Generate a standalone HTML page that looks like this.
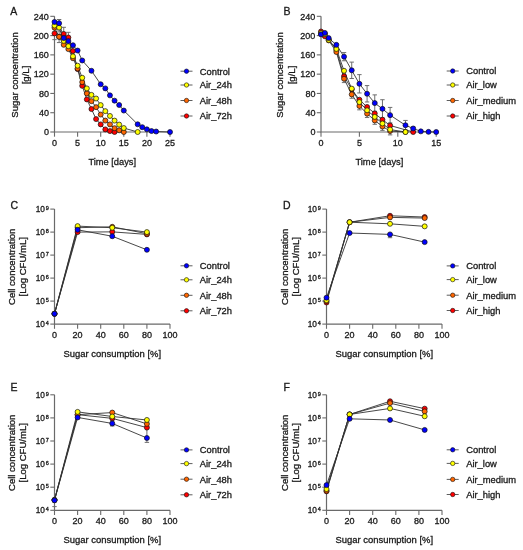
<!DOCTYPE html>
<html><head><meta charset="utf-8"><style>
html,body{margin:0;padding:0;background:#fff;}
body{width:523px;height:550px;overflow:hidden;}
svg{display:block;will-change:transform;}
text{font-family:"Liberation Sans", sans-serif;fill:#1a1a1a;stroke:#1a1a1a;stroke-width:0.3px;}
</style></head><body>
<svg width="523" height="550" viewBox="0 0 523 550">
<rect width="523" height="550" fill="#fff"/>
<path d="M54.50,16.32V132.00H170.00" fill="none" stroke="#6a6a6a" stroke-width="1.2"/>
<path d="M54.50,132.00v4.7" stroke="#6a6a6a" stroke-width="1.1"/>
<text x="54.50" y="145.80" font-size="9.0" text-anchor="middle" >0</text>
<path d="M77.60,132.00v4.7" stroke="#6a6a6a" stroke-width="1.1"/>
<text x="77.60" y="145.80" font-size="9.0" text-anchor="middle" >5</text>
<path d="M100.70,132.00v4.7" stroke="#6a6a6a" stroke-width="1.1"/>
<text x="100.70" y="145.80" font-size="9.0" text-anchor="middle" >10</text>
<path d="M123.80,132.00v4.7" stroke="#6a6a6a" stroke-width="1.1"/>
<text x="123.80" y="145.80" font-size="9.0" text-anchor="middle" >15</text>
<path d="M146.90,132.00v4.7" stroke="#6a6a6a" stroke-width="1.1"/>
<text x="146.90" y="145.80" font-size="9.0" text-anchor="middle" >20</text>
<path d="M170.00,132.00v4.7" stroke="#6a6a6a" stroke-width="1.1"/>
<text x="170.00" y="145.80" font-size="9.0" text-anchor="middle" >25</text>
<path d="M50.30,132.00h4.2" stroke="#6a6a6a" stroke-width="1.1"/>
<text x="48.90" y="135.20" font-size="9.0" text-anchor="end" >0</text>
<path d="M50.30,112.72h4.2" stroke="#6a6a6a" stroke-width="1.1"/>
<text x="48.90" y="115.92" font-size="9.0" text-anchor="end" >40</text>
<path d="M50.30,93.44h4.2" stroke="#6a6a6a" stroke-width="1.1"/>
<text x="48.90" y="96.64" font-size="9.0" text-anchor="end" >80</text>
<path d="M50.30,74.16h4.2" stroke="#6a6a6a" stroke-width="1.1"/>
<text x="48.90" y="77.36" font-size="9.0" text-anchor="end" >120</text>
<path d="M50.30,54.88h4.2" stroke="#6a6a6a" stroke-width="1.1"/>
<text x="48.90" y="58.08" font-size="9.0" text-anchor="end" >160</text>
<path d="M50.30,35.60h4.2" stroke="#6a6a6a" stroke-width="1.1"/>
<text x="48.90" y="38.80" font-size="9.0" text-anchor="end" >200</text>
<path d="M50.30,16.32h4.2" stroke="#6a6a6a" stroke-width="1.1"/>
<text x="48.90" y="19.52" font-size="9.0" text-anchor="end" >240</text>
<path d="M54.50,27.12V39.65M52.30,27.12h4.40M52.30,39.65h4.40" fill="none" stroke="#6e6e6e" stroke-width="1"/>
<path d="M59.12,31.02V42.59M56.92,31.02h4.40M56.92,42.59h4.40" fill="none" stroke="#6e6e6e" stroke-width="1"/>
<path d="M63.74,27.31V40.52M61.54,27.31h4.40M61.54,40.52h4.40" fill="none" stroke="#6e6e6e" stroke-width="1"/>
<path d="M68.36,32.32V42.73M66.16,32.32h4.40M66.16,42.73h4.40" fill="none" stroke="#6e6e6e" stroke-width="1"/>
<path d="M59.12,19.50V26.92M56.92,19.50h4.40M56.92,26.92h4.40" fill="none" stroke="#6e6e6e" stroke-width="1"/>
<path d="M54.50,33.38 L59.12,36.81 L63.74,33.91 L68.36,37.53 L72.98,51.02 L77.60,69.10 L82.22,85.87 L86.84,99.42 L91.46,109.06 L96.08,119.08 L100.70,124.38 L105.32,129.40 L109.94,131.08 L114.56,132.00" fill="none" stroke="#333333" stroke-width="0.9"/>
<path d="M54.50,27.65 L59.12,36.81 L63.74,44.85 L68.36,49.10 L72.98,58.25 L77.60,68.52 L82.22,82.11 L86.84,93.44 L91.46,101.15 L96.08,107.13 L100.70,114.55 L105.32,120.58 L109.94,124.38 L114.56,128.19 L119.18,130.31 L123.80,132.00" fill="none" stroke="#333333" stroke-width="0.9"/>
<path d="M54.50,25.57 L59.12,27.60 L63.74,40.90 L68.36,46.20 L72.98,56.33 L77.60,65.68 L82.22,77.78 L86.84,88.38 L91.46,94.89 L96.08,98.50 L100.70,105.10 L105.32,111.13 L109.94,115.95 L114.56,120.62 L119.18,124.58 L123.80,128.05 L137.66,132.00" fill="none" stroke="#333333" stroke-width="0.9"/>
<path d="M54.50,21.91 L59.12,23.21 L63.74,38.01 L68.36,41.09 L72.98,45.24 L77.60,50.54 L82.22,60.47 L91.46,70.79 L100.70,84.28 L105.32,88.38 L109.94,95.37 L114.56,100.67 L119.18,105.01 L123.80,110.55 L137.66,124.29 L142.28,127.18 L146.90,129.35 L151.52,131.04 L156.14,131.52 L170.00,132.00" fill="none" stroke="#333333" stroke-width="0.9"/>
<circle cx="54.50" cy="33.38" r="2.5" fill="#ff0000" stroke="#111" stroke-width="0.7"/>
<circle cx="59.12" cy="36.81" r="2.5" fill="#ff0000" stroke="#111" stroke-width="0.7"/>
<circle cx="63.74" cy="33.91" r="2.5" fill="#ff0000" stroke="#111" stroke-width="0.7"/>
<circle cx="68.36" cy="37.53" r="2.5" fill="#ff0000" stroke="#111" stroke-width="0.7"/>
<circle cx="72.98" cy="51.02" r="2.5" fill="#ff0000" stroke="#111" stroke-width="0.7"/>
<circle cx="77.60" cy="69.10" r="2.5" fill="#ff0000" stroke="#111" stroke-width="0.7"/>
<circle cx="82.22" cy="85.87" r="2.5" fill="#ff0000" stroke="#111" stroke-width="0.7"/>
<circle cx="86.84" cy="99.42" r="2.5" fill="#ff0000" stroke="#111" stroke-width="0.7"/>
<circle cx="91.46" cy="109.06" r="2.5" fill="#ff0000" stroke="#111" stroke-width="0.7"/>
<circle cx="96.08" cy="119.08" r="2.5" fill="#ff0000" stroke="#111" stroke-width="0.7"/>
<circle cx="100.70" cy="124.38" r="2.5" fill="#ff0000" stroke="#111" stroke-width="0.7"/>
<circle cx="105.32" cy="129.40" r="2.5" fill="#ff0000" stroke="#111" stroke-width="0.7"/>
<circle cx="109.94" cy="131.08" r="2.5" fill="#ff0000" stroke="#111" stroke-width="0.7"/>
<circle cx="114.56" cy="132.00" r="2.5" fill="#ff0000" stroke="#111" stroke-width="0.7"/>
<circle cx="54.50" cy="27.65" r="2.5" fill="#ff6600" stroke="#111" stroke-width="0.7"/>
<circle cx="59.12" cy="36.81" r="2.5" fill="#ff6600" stroke="#111" stroke-width="0.7"/>
<circle cx="63.74" cy="44.85" r="2.5" fill="#ff6600" stroke="#111" stroke-width="0.7"/>
<circle cx="68.36" cy="49.10" r="2.5" fill="#ff6600" stroke="#111" stroke-width="0.7"/>
<circle cx="72.98" cy="58.25" r="2.5" fill="#ff6600" stroke="#111" stroke-width="0.7"/>
<circle cx="77.60" cy="68.52" r="2.5" fill="#ff6600" stroke="#111" stroke-width="0.7"/>
<circle cx="82.22" cy="82.11" r="2.5" fill="#ff6600" stroke="#111" stroke-width="0.7"/>
<circle cx="86.84" cy="93.44" r="2.5" fill="#ff6600" stroke="#111" stroke-width="0.7"/>
<circle cx="91.46" cy="101.15" r="2.5" fill="#ff6600" stroke="#111" stroke-width="0.7"/>
<circle cx="96.08" cy="107.13" r="2.5" fill="#ff6600" stroke="#111" stroke-width="0.7"/>
<circle cx="100.70" cy="114.55" r="2.5" fill="#ff6600" stroke="#111" stroke-width="0.7"/>
<circle cx="105.32" cy="120.58" r="2.5" fill="#ff6600" stroke="#111" stroke-width="0.7"/>
<circle cx="109.94" cy="124.38" r="2.5" fill="#ff6600" stroke="#111" stroke-width="0.7"/>
<circle cx="114.56" cy="128.19" r="2.5" fill="#ff6600" stroke="#111" stroke-width="0.7"/>
<circle cx="119.18" cy="130.31" r="2.5" fill="#ff6600" stroke="#111" stroke-width="0.7"/>
<circle cx="123.80" cy="132.00" r="2.5" fill="#ff6600" stroke="#111" stroke-width="0.7"/>
<circle cx="54.50" cy="25.57" r="2.5" fill="#ffff00" stroke="#111" stroke-width="0.7"/>
<circle cx="59.12" cy="27.60" r="2.5" fill="#ffff00" stroke="#111" stroke-width="0.7"/>
<circle cx="63.74" cy="40.90" r="2.5" fill="#ffff00" stroke="#111" stroke-width="0.7"/>
<circle cx="68.36" cy="46.20" r="2.5" fill="#ffff00" stroke="#111" stroke-width="0.7"/>
<circle cx="72.98" cy="56.33" r="2.5" fill="#ffff00" stroke="#111" stroke-width="0.7"/>
<circle cx="77.60" cy="65.68" r="2.5" fill="#ffff00" stroke="#111" stroke-width="0.7"/>
<circle cx="82.22" cy="77.78" r="2.5" fill="#ffff00" stroke="#111" stroke-width="0.7"/>
<circle cx="86.84" cy="88.38" r="2.5" fill="#ffff00" stroke="#111" stroke-width="0.7"/>
<circle cx="91.46" cy="94.89" r="2.5" fill="#ffff00" stroke="#111" stroke-width="0.7"/>
<circle cx="96.08" cy="98.50" r="2.5" fill="#ffff00" stroke="#111" stroke-width="0.7"/>
<circle cx="100.70" cy="105.10" r="2.5" fill="#ffff00" stroke="#111" stroke-width="0.7"/>
<circle cx="105.32" cy="111.13" r="2.5" fill="#ffff00" stroke="#111" stroke-width="0.7"/>
<circle cx="109.94" cy="115.95" r="2.5" fill="#ffff00" stroke="#111" stroke-width="0.7"/>
<circle cx="114.56" cy="120.62" r="2.5" fill="#ffff00" stroke="#111" stroke-width="0.7"/>
<circle cx="119.18" cy="124.58" r="2.5" fill="#ffff00" stroke="#111" stroke-width="0.7"/>
<circle cx="123.80" cy="128.05" r="2.5" fill="#ffff00" stroke="#111" stroke-width="0.7"/>
<circle cx="137.66" cy="132.00" r="2.5" fill="#ffff00" stroke="#111" stroke-width="0.7"/>
<circle cx="54.50" cy="21.91" r="2.5" fill="#0000ff" stroke="#111" stroke-width="0.7"/>
<circle cx="59.12" cy="23.21" r="2.5" fill="#0000ff" stroke="#111" stroke-width="0.7"/>
<circle cx="63.74" cy="38.01" r="2.5" fill="#0000ff" stroke="#111" stroke-width="0.7"/>
<circle cx="68.36" cy="41.09" r="2.5" fill="#0000ff" stroke="#111" stroke-width="0.7"/>
<circle cx="72.98" cy="45.24" r="2.5" fill="#0000ff" stroke="#111" stroke-width="0.7"/>
<circle cx="77.60" cy="50.54" r="2.5" fill="#0000ff" stroke="#111" stroke-width="0.7"/>
<circle cx="82.22" cy="60.47" r="2.5" fill="#0000ff" stroke="#111" stroke-width="0.7"/>
<circle cx="91.46" cy="70.79" r="2.5" fill="#0000ff" stroke="#111" stroke-width="0.7"/>
<circle cx="100.70" cy="84.28" r="2.5" fill="#0000ff" stroke="#111" stroke-width="0.7"/>
<circle cx="105.32" cy="88.38" r="2.5" fill="#0000ff" stroke="#111" stroke-width="0.7"/>
<circle cx="109.94" cy="95.37" r="2.5" fill="#0000ff" stroke="#111" stroke-width="0.7"/>
<circle cx="114.56" cy="100.67" r="2.5" fill="#0000ff" stroke="#111" stroke-width="0.7"/>
<circle cx="119.18" cy="105.01" r="2.5" fill="#0000ff" stroke="#111" stroke-width="0.7"/>
<circle cx="123.80" cy="110.55" r="2.5" fill="#0000ff" stroke="#111" stroke-width="0.7"/>
<circle cx="137.66" cy="124.29" r="2.5" fill="#0000ff" stroke="#111" stroke-width="0.7"/>
<circle cx="142.28" cy="127.18" r="2.5" fill="#0000ff" stroke="#111" stroke-width="0.7"/>
<circle cx="146.90" cy="129.35" r="2.5" fill="#0000ff" stroke="#111" stroke-width="0.7"/>
<circle cx="151.52" cy="131.04" r="2.5" fill="#0000ff" stroke="#111" stroke-width="0.7"/>
<circle cx="156.14" cy="131.52" r="2.5" fill="#0000ff" stroke="#111" stroke-width="0.7"/>
<circle cx="170.00" cy="132.00" r="2.5" fill="#0000ff" stroke="#111" stroke-width="0.7"/>
<path d="M180.50,71.20h12" stroke="#333333" stroke-width="0.8"/>
<circle cx="186.50" cy="71.20" r="2.2" fill="#0000ff" stroke="#111" stroke-width="0.6"/>
<text x="199.80" y="74.50" font-size="9.35" text-anchor="start" >Control</text>
<path d="M180.50,85.00h12" stroke="#333333" stroke-width="0.8"/>
<circle cx="186.50" cy="85.00" r="2.2" fill="#ffff00" stroke="#111" stroke-width="0.6"/>
<text x="199.80" y="88.30" font-size="9.35" text-anchor="start" >Air_24h</text>
<path d="M180.50,100.50h12" stroke="#333333" stroke-width="0.8"/>
<circle cx="186.50" cy="100.50" r="2.2" fill="#ff6600" stroke="#111" stroke-width="0.6"/>
<text x="199.80" y="103.80" font-size="9.35" text-anchor="start" >Air_48h</text>
<path d="M180.50,116.00h12" stroke="#333333" stroke-width="0.8"/>
<circle cx="186.50" cy="116.00" r="2.2" fill="#ff0000" stroke="#111" stroke-width="0.6"/>
<text x="199.80" y="119.30" font-size="9.35" text-anchor="start" >Air_72h</text>
<text x="10.30" y="14.70" font-size="10.5" text-anchor="start" >A</text>
<g transform="translate(19.90,75.00) rotate(-90)">
<text x="0" y="-2.40" font-size="9.55" text-anchor="middle">Sugar concentration</text>
<text x="0" y="8.80" font-size="9.55" text-anchor="middle">[g/L]</text>
</g>
<text x="112.25" y="164.80" font-size="9.3" text-anchor="middle" >Time [days]</text>
<path d="M321.00,16.32V132.00H436.20" fill="none" stroke="#6a6a6a" stroke-width="1.2"/>
<path d="M321.00,132.00v4.7" stroke="#6a6a6a" stroke-width="1.1"/>
<text x="321.00" y="145.80" font-size="9.0" text-anchor="middle" >0</text>
<path d="M359.40,132.00v4.7" stroke="#6a6a6a" stroke-width="1.1"/>
<text x="359.40" y="145.80" font-size="9.0" text-anchor="middle" >5</text>
<path d="M397.80,132.00v4.7" stroke="#6a6a6a" stroke-width="1.1"/>
<text x="397.80" y="145.80" font-size="9.0" text-anchor="middle" >10</text>
<path d="M436.20,132.00v4.7" stroke="#6a6a6a" stroke-width="1.1"/>
<text x="436.20" y="145.80" font-size="9.0" text-anchor="middle" >15</text>
<path d="M316.80,132.00h4.2" stroke="#6a6a6a" stroke-width="1.1"/>
<text x="315.40" y="135.20" font-size="9.0" text-anchor="end" >0</text>
<path d="M316.80,112.72h4.2" stroke="#6a6a6a" stroke-width="1.1"/>
<text x="315.40" y="115.92" font-size="9.0" text-anchor="end" >40</text>
<path d="M316.80,93.44h4.2" stroke="#6a6a6a" stroke-width="1.1"/>
<text x="315.40" y="96.64" font-size="9.0" text-anchor="end" >80</text>
<path d="M316.80,74.16h4.2" stroke="#6a6a6a" stroke-width="1.1"/>
<text x="315.40" y="77.36" font-size="9.0" text-anchor="end" >120</text>
<path d="M316.80,54.88h4.2" stroke="#6a6a6a" stroke-width="1.1"/>
<text x="315.40" y="58.08" font-size="9.0" text-anchor="end" >160</text>
<path d="M316.80,35.60h4.2" stroke="#6a6a6a" stroke-width="1.1"/>
<text x="315.40" y="38.80" font-size="9.0" text-anchor="end" >200</text>
<path d="M316.80,16.32h4.2" stroke="#6a6a6a" stroke-width="1.1"/>
<text x="315.40" y="19.52" font-size="9.0" text-anchor="end" >240</text>
<path d="M344.04,52.57V60.76M341.84,52.57h4.40M341.84,60.76h4.40" fill="none" stroke="#6e6e6e" stroke-width="1"/>
<path d="M351.72,62.11V78.50M349.52,62.11h4.40M349.52,78.50h4.40" fill="none" stroke="#6e6e6e" stroke-width="1"/>
<path d="M359.40,74.64V92.96M357.20,74.64h4.40M357.20,92.96h4.40" fill="none" stroke="#6e6e6e" stroke-width="1"/>
<path d="M367.08,85.58V101.97M364.88,85.58h4.40M364.88,101.97h4.40" fill="none" stroke="#6e6e6e" stroke-width="1"/>
<path d="M374.76,94.89V111.27M372.56,94.89h4.40M372.56,111.27h4.40" fill="none" stroke="#6e6e6e" stroke-width="1"/>
<path d="M382.44,99.71V118.02M380.24,99.71h4.40M380.24,118.02h4.40" fill="none" stroke="#6e6e6e" stroke-width="1"/>
<path d="M390.12,107.42V122.84M387.92,107.42h4.40M387.92,122.84h4.40" fill="none" stroke="#6e6e6e" stroke-width="1"/>
<path d="M405.48,120.43V130.07M403.28,120.43h4.40M403.28,130.07h4.40" fill="none" stroke="#6e6e6e" stroke-width="1"/>
<path d="M413.16,127.04V129.93M410.96,127.04h4.40M410.96,129.93h4.40" fill="none" stroke="#6e6e6e" stroke-width="1"/>
<path d="M344.04,74.88V82.59M341.84,74.88h4.40M341.84,82.59h4.40" fill="none" stroke="#6e6e6e" stroke-width="1"/>
<path d="M351.72,90.55V98.26M349.52,90.55h4.40M349.52,98.26h4.40" fill="none" stroke="#6e6e6e" stroke-width="1"/>
<path d="M359.40,102.12V109.83M357.20,102.12h4.40M357.20,109.83h4.40" fill="none" stroke="#6e6e6e" stroke-width="1"/>
<path d="M367.08,109.83V117.54M364.88,109.83h4.40M364.88,117.54h4.40" fill="none" stroke="#6e6e6e" stroke-width="1"/>
<path d="M374.76,116.58V124.29M372.56,116.58h4.40M372.56,124.29h4.40" fill="none" stroke="#6e6e6e" stroke-width="1"/>
<path d="M382.44,122.65V130.36M380.24,122.65h4.40M380.24,130.36h4.40" fill="none" stroke="#6e6e6e" stroke-width="1"/>
<path d="M390.12,127.18V134.89M387.92,127.18h4.40M387.92,134.89h4.40" fill="none" stroke="#6e6e6e" stroke-width="1"/>
<path d="M321.00,31.50 L324.84,36.23 L328.68,39.46 L336.36,50.06 L344.04,76.33 L351.72,89.34 L359.40,99.71 L367.08,106.94 L374.76,113.44 L382.44,119.66 L390.12,125.49 L413.16,132.00" fill="none" stroke="#333333" stroke-width="0.9"/>
<path d="M321.00,33.67 L324.84,33.91 L328.68,40.42 L336.36,51.99 L344.04,78.74 L351.72,94.40 L359.40,105.97 L367.08,113.68 L374.76,120.43 L382.44,126.51 L390.12,131.04 L405.48,132.00" fill="none" stroke="#333333" stroke-width="0.9"/>
<path d="M321.00,32.95 L324.84,34.15 L328.68,39.94 L336.36,48.95 L344.04,70.79 L351.72,88.62 L359.40,102.12 L367.08,110.31 L374.76,116.87 L382.44,123.47 L390.12,129.59 L405.48,132.00" fill="none" stroke="#333333" stroke-width="0.9"/>
<path d="M321.00,34.35 L324.84,32.90 L328.68,38.11 L336.36,44.85 L344.04,56.66 L351.72,70.30 L359.40,83.80 L367.08,93.78 L374.76,103.08 L382.44,108.86 L390.12,115.13 L405.48,125.25 L413.16,128.48 L420.84,131.37 L428.52,131.86 L436.20,132.00" fill="none" stroke="#333333" stroke-width="0.9"/>
<circle cx="321.00" cy="31.50" r="2.5" fill="#ff0000" stroke="#111" stroke-width="0.7"/>
<circle cx="324.84" cy="36.23" r="2.5" fill="#ff0000" stroke="#111" stroke-width="0.7"/>
<circle cx="328.68" cy="39.46" r="2.5" fill="#ff0000" stroke="#111" stroke-width="0.7"/>
<circle cx="336.36" cy="50.06" r="2.5" fill="#ff0000" stroke="#111" stroke-width="0.7"/>
<circle cx="344.04" cy="76.33" r="2.5" fill="#ff0000" stroke="#111" stroke-width="0.7"/>
<circle cx="351.72" cy="89.34" r="2.5" fill="#ff0000" stroke="#111" stroke-width="0.7"/>
<circle cx="359.40" cy="99.71" r="2.5" fill="#ff0000" stroke="#111" stroke-width="0.7"/>
<circle cx="367.08" cy="106.94" r="2.5" fill="#ff0000" stroke="#111" stroke-width="0.7"/>
<circle cx="374.76" cy="113.44" r="2.5" fill="#ff0000" stroke="#111" stroke-width="0.7"/>
<circle cx="382.44" cy="119.66" r="2.5" fill="#ff0000" stroke="#111" stroke-width="0.7"/>
<circle cx="390.12" cy="125.49" r="2.5" fill="#ff0000" stroke="#111" stroke-width="0.7"/>
<circle cx="413.16" cy="132.00" r="2.5" fill="#ff0000" stroke="#111" stroke-width="0.7"/>
<circle cx="321.00" cy="33.67" r="2.5" fill="#ff6600" stroke="#111" stroke-width="0.7"/>
<circle cx="324.84" cy="33.91" r="2.5" fill="#ff6600" stroke="#111" stroke-width="0.7"/>
<circle cx="328.68" cy="40.42" r="2.5" fill="#ff6600" stroke="#111" stroke-width="0.7"/>
<circle cx="336.36" cy="51.99" r="2.5" fill="#ff6600" stroke="#111" stroke-width="0.7"/>
<circle cx="344.04" cy="78.74" r="2.5" fill="#ff6600" stroke="#111" stroke-width="0.7"/>
<circle cx="351.72" cy="94.40" r="2.5" fill="#ff6600" stroke="#111" stroke-width="0.7"/>
<circle cx="359.40" cy="105.97" r="2.5" fill="#ff6600" stroke="#111" stroke-width="0.7"/>
<circle cx="367.08" cy="113.68" r="2.5" fill="#ff6600" stroke="#111" stroke-width="0.7"/>
<circle cx="374.76" cy="120.43" r="2.5" fill="#ff6600" stroke="#111" stroke-width="0.7"/>
<circle cx="382.44" cy="126.51" r="2.5" fill="#ff6600" stroke="#111" stroke-width="0.7"/>
<circle cx="390.12" cy="131.04" r="2.5" fill="#ff6600" stroke="#111" stroke-width="0.7"/>
<circle cx="405.48" cy="132.00" r="2.5" fill="#ff6600" stroke="#111" stroke-width="0.7"/>
<circle cx="321.00" cy="32.95" r="2.5" fill="#ffff00" stroke="#111" stroke-width="0.7"/>
<circle cx="324.84" cy="34.15" r="2.5" fill="#ffff00" stroke="#111" stroke-width="0.7"/>
<circle cx="328.68" cy="39.94" r="2.5" fill="#ffff00" stroke="#111" stroke-width="0.7"/>
<circle cx="336.36" cy="48.95" r="2.5" fill="#ffff00" stroke="#111" stroke-width="0.7"/>
<circle cx="344.04" cy="70.79" r="2.5" fill="#ffff00" stroke="#111" stroke-width="0.7"/>
<circle cx="351.72" cy="88.62" r="2.5" fill="#ffff00" stroke="#111" stroke-width="0.7"/>
<circle cx="359.40" cy="102.12" r="2.5" fill="#ffff00" stroke="#111" stroke-width="0.7"/>
<circle cx="367.08" cy="110.31" r="2.5" fill="#ffff00" stroke="#111" stroke-width="0.7"/>
<circle cx="374.76" cy="116.87" r="2.5" fill="#ffff00" stroke="#111" stroke-width="0.7"/>
<circle cx="382.44" cy="123.47" r="2.5" fill="#ffff00" stroke="#111" stroke-width="0.7"/>
<circle cx="390.12" cy="129.59" r="2.5" fill="#ffff00" stroke="#111" stroke-width="0.7"/>
<circle cx="405.48" cy="132.00" r="2.5" fill="#ffff00" stroke="#111" stroke-width="0.7"/>
<circle cx="321.00" cy="34.35" r="2.5" fill="#0000ff" stroke="#111" stroke-width="0.7"/>
<circle cx="324.84" cy="32.90" r="2.5" fill="#0000ff" stroke="#111" stroke-width="0.7"/>
<circle cx="328.68" cy="38.11" r="2.5" fill="#0000ff" stroke="#111" stroke-width="0.7"/>
<circle cx="336.36" cy="44.85" r="2.5" fill="#0000ff" stroke="#111" stroke-width="0.7"/>
<circle cx="344.04" cy="56.66" r="2.5" fill="#0000ff" stroke="#111" stroke-width="0.7"/>
<circle cx="351.72" cy="70.30" r="2.5" fill="#0000ff" stroke="#111" stroke-width="0.7"/>
<circle cx="359.40" cy="83.80" r="2.5" fill="#0000ff" stroke="#111" stroke-width="0.7"/>
<circle cx="367.08" cy="93.78" r="2.5" fill="#0000ff" stroke="#111" stroke-width="0.7"/>
<circle cx="374.76" cy="103.08" r="2.5" fill="#0000ff" stroke="#111" stroke-width="0.7"/>
<circle cx="382.44" cy="108.86" r="2.5" fill="#0000ff" stroke="#111" stroke-width="0.7"/>
<circle cx="390.12" cy="115.13" r="2.5" fill="#0000ff" stroke="#111" stroke-width="0.7"/>
<circle cx="405.48" cy="125.25" r="2.5" fill="#0000ff" stroke="#111" stroke-width="0.7"/>
<circle cx="413.16" cy="128.48" r="2.5" fill="#0000ff" stroke="#111" stroke-width="0.7"/>
<circle cx="420.84" cy="131.37" r="2.5" fill="#0000ff" stroke="#111" stroke-width="0.7"/>
<circle cx="428.52" cy="131.86" r="2.5" fill="#0000ff" stroke="#111" stroke-width="0.7"/>
<circle cx="436.20" cy="132.00" r="2.5" fill="#0000ff" stroke="#111" stroke-width="0.7"/>
<path d="M446.70,71.00h12" stroke="#333333" stroke-width="0.8"/>
<circle cx="452.70" cy="71.00" r="2.2" fill="#0000ff" stroke="#111" stroke-width="0.6"/>
<text x="466.20" y="74.30" font-size="9.35" text-anchor="start" >Control</text>
<path d="M446.70,85.00h12" stroke="#333333" stroke-width="0.8"/>
<circle cx="452.70" cy="85.00" r="2.2" fill="#ffff00" stroke="#111" stroke-width="0.6"/>
<text x="466.20" y="88.30" font-size="9.35" text-anchor="start" >Air_low</text>
<path d="M446.70,100.50h12" stroke="#333333" stroke-width="0.8"/>
<circle cx="452.70" cy="100.50" r="2.2" fill="#ff6600" stroke="#111" stroke-width="0.6"/>
<text x="466.20" y="103.80" font-size="9.35" text-anchor="start" >Air_medium</text>
<path d="M446.70,116.00h12" stroke="#333333" stroke-width="0.8"/>
<circle cx="452.70" cy="116.00" r="2.2" fill="#ff0000" stroke="#111" stroke-width="0.6"/>
<text x="466.20" y="119.30" font-size="9.35" text-anchor="start" >Air_high</text>
<text x="283.50" y="14.70" font-size="10.5" text-anchor="start" >B</text>
<g transform="translate(285.70,75.00) rotate(-90)">
<text x="0" y="-2.40" font-size="9.55" text-anchor="middle">Sugar concentration</text>
<text x="0" y="8.80" font-size="9.55" text-anchor="middle">[g/L]</text>
</g>
<text x="379.40" y="164.80" font-size="9.35" text-anchor="middle" >Time [days]</text>
<path d="M54.50,209.10V324.10H170.00" fill="none" stroke="#6a6a6a" stroke-width="1.2"/>
<path d="M54.50,324.10v4.7" stroke="#6a6a6a" stroke-width="1.1"/>
<text x="54.50" y="337.90" font-size="9.0" text-anchor="middle" >0</text>
<path d="M77.60,324.10v4.7" stroke="#6a6a6a" stroke-width="1.1"/>
<text x="77.60" y="337.90" font-size="9.0" text-anchor="middle" >20</text>
<path d="M100.70,324.10v4.7" stroke="#6a6a6a" stroke-width="1.1"/>
<text x="100.70" y="337.90" font-size="9.0" text-anchor="middle" >40</text>
<path d="M123.80,324.10v4.7" stroke="#6a6a6a" stroke-width="1.1"/>
<text x="123.80" y="337.90" font-size="9.0" text-anchor="middle" >60</text>
<path d="M146.90,324.10v4.7" stroke="#6a6a6a" stroke-width="1.1"/>
<text x="146.90" y="337.90" font-size="9.0" text-anchor="middle" >80</text>
<path d="M170.00,324.10v4.7" stroke="#6a6a6a" stroke-width="1.1"/>
<text x="170.00" y="337.90" font-size="9.0" text-anchor="middle" >100</text>
<path d="M50.30,324.10h4.2" stroke="#6a6a6a" stroke-width="1.1"/>
<text x="44.90" y="327.10" font-size="8.3" text-anchor="end" >10</text>
<text x="45.80" y="324.80" font-size="5.5" text-anchor="start" >4</text>
<path d="M50.30,301.10h4.2" stroke="#6a6a6a" stroke-width="1.1"/>
<text x="44.90" y="304.10" font-size="8.3" text-anchor="end" >10</text>
<text x="45.80" y="301.80" font-size="5.5" text-anchor="start" >5</text>
<path d="M50.30,278.10h4.2" stroke="#6a6a6a" stroke-width="1.1"/>
<text x="44.90" y="281.10" font-size="8.3" text-anchor="end" >10</text>
<text x="45.80" y="278.80" font-size="5.5" text-anchor="start" >6</text>
<path d="M50.30,255.10h4.2" stroke="#6a6a6a" stroke-width="1.1"/>
<text x="44.90" y="258.10" font-size="8.3" text-anchor="end" >10</text>
<text x="45.80" y="255.80" font-size="5.5" text-anchor="start" >7</text>
<path d="M50.30,232.10h4.2" stroke="#6a6a6a" stroke-width="1.1"/>
<text x="44.90" y="235.10" font-size="8.3" text-anchor="end" >10</text>
<text x="45.80" y="232.80" font-size="5.5" text-anchor="start" >8</text>
<path d="M50.30,209.10h4.2" stroke="#6a6a6a" stroke-width="1.1"/>
<text x="44.90" y="212.10" font-size="8.3" text-anchor="end" >10</text>
<text x="45.80" y="209.80" font-size="5.5" text-anchor="start" >9</text>
<path d="M54.50,313.75 L77.60,232.10 L112.25,231.87 L146.90,234.40" fill="none" stroke="#333333" stroke-width="0.9"/>
<path d="M54.50,313.75 L77.60,227.73 L112.25,226.81 L146.90,233.71" fill="none" stroke="#333333" stroke-width="0.9"/>
<path d="M54.50,313.75 L77.60,226.12 L112.25,227.73 L146.90,232.10" fill="none" stroke="#333333" stroke-width="0.9"/>
<path d="M54.50,313.75 L77.60,229.80 L112.25,236.24 L146.90,249.81" fill="none" stroke="#333333" stroke-width="0.9"/>
<circle cx="54.50" cy="313.75" r="2.5" fill="#ff0000" stroke="#111" stroke-width="0.7"/>
<circle cx="77.60" cy="232.10" r="2.5" fill="#ff0000" stroke="#111" stroke-width="0.7"/>
<circle cx="112.25" cy="231.87" r="2.5" fill="#ff0000" stroke="#111" stroke-width="0.7"/>
<circle cx="146.90" cy="234.40" r="2.5" fill="#ff0000" stroke="#111" stroke-width="0.7"/>
<circle cx="54.50" cy="313.75" r="2.5" fill="#ff6600" stroke="#111" stroke-width="0.7"/>
<circle cx="77.60" cy="227.73" r="2.5" fill="#ff6600" stroke="#111" stroke-width="0.7"/>
<circle cx="112.25" cy="226.81" r="2.5" fill="#ff6600" stroke="#111" stroke-width="0.7"/>
<circle cx="146.90" cy="233.71" r="2.5" fill="#ff6600" stroke="#111" stroke-width="0.7"/>
<circle cx="54.50" cy="313.75" r="2.5" fill="#ffff00" stroke="#111" stroke-width="0.7"/>
<circle cx="77.60" cy="226.12" r="2.5" fill="#ffff00" stroke="#111" stroke-width="0.7"/>
<circle cx="112.25" cy="227.73" r="2.5" fill="#ffff00" stroke="#111" stroke-width="0.7"/>
<circle cx="146.90" cy="232.10" r="2.5" fill="#ffff00" stroke="#111" stroke-width="0.7"/>
<circle cx="54.50" cy="313.75" r="2.5" fill="#0000ff" stroke="#111" stroke-width="0.7"/>
<circle cx="77.60" cy="229.80" r="2.5" fill="#0000ff" stroke="#111" stroke-width="0.7"/>
<circle cx="112.25" cy="236.24" r="2.5" fill="#0000ff" stroke="#111" stroke-width="0.7"/>
<circle cx="146.90" cy="249.81" r="2.5" fill="#0000ff" stroke="#111" stroke-width="0.7"/>
<path d="M180.50,265.80h12" stroke="#333333" stroke-width="0.8"/>
<circle cx="186.50" cy="265.80" r="2.2" fill="#0000ff" stroke="#111" stroke-width="0.6"/>
<text x="199.80" y="269.10" font-size="9.35" text-anchor="start" >Control</text>
<path d="M180.50,279.80h12" stroke="#333333" stroke-width="0.8"/>
<circle cx="186.50" cy="279.80" r="2.2" fill="#ffff00" stroke="#111" stroke-width="0.6"/>
<text x="199.80" y="283.10" font-size="9.35" text-anchor="start" >Air_24h</text>
<path d="M180.50,295.30h12" stroke="#333333" stroke-width="0.8"/>
<circle cx="186.50" cy="295.30" r="2.2" fill="#ff6600" stroke="#111" stroke-width="0.6"/>
<text x="199.80" y="298.60" font-size="9.35" text-anchor="start" >Air_48h</text>
<path d="M180.50,310.80h12" stroke="#333333" stroke-width="0.8"/>
<circle cx="186.50" cy="310.80" r="2.2" fill="#ff0000" stroke="#111" stroke-width="0.6"/>
<text x="199.80" y="314.10" font-size="9.35" text-anchor="start" >Air_72h</text>
<text x="10.40" y="208.50" font-size="10.5" text-anchor="start" >C</text>
<g transform="translate(17.50,266.80) rotate(-90)">
<text x="0" y="-2.40" font-size="9.55" text-anchor="middle">Cell concentration</text>
<text x="0" y="8.80" font-size="9.55" text-anchor="middle">[Log CFU/mL]</text>
</g>
<text x="112.25" y="357.20" font-size="9.45" text-anchor="middle" >Sugar consumption [%]</text>
<path d="M326.50,209.10V324.10H442.00" fill="none" stroke="#6a6a6a" stroke-width="1.2"/>
<path d="M326.50,324.10v4.7" stroke="#6a6a6a" stroke-width="1.1"/>
<text x="326.50" y="337.90" font-size="9.0" text-anchor="middle" >0</text>
<path d="M349.60,324.10v4.7" stroke="#6a6a6a" stroke-width="1.1"/>
<text x="349.60" y="337.90" font-size="9.0" text-anchor="middle" >20</text>
<path d="M372.70,324.10v4.7" stroke="#6a6a6a" stroke-width="1.1"/>
<text x="372.70" y="337.90" font-size="9.0" text-anchor="middle" >40</text>
<path d="M395.80,324.10v4.7" stroke="#6a6a6a" stroke-width="1.1"/>
<text x="395.80" y="337.90" font-size="9.0" text-anchor="middle" >60</text>
<path d="M418.90,324.10v4.7" stroke="#6a6a6a" stroke-width="1.1"/>
<text x="418.90" y="337.90" font-size="9.0" text-anchor="middle" >80</text>
<path d="M442.00,324.10v4.7" stroke="#6a6a6a" stroke-width="1.1"/>
<text x="442.00" y="337.90" font-size="9.0" text-anchor="middle" >100</text>
<path d="M322.30,324.10h4.2" stroke="#6a6a6a" stroke-width="1.1"/>
<text x="316.90" y="327.10" font-size="8.3" text-anchor="end" >10</text>
<text x="317.80" y="324.80" font-size="5.5" text-anchor="start" >4</text>
<path d="M322.30,301.10h4.2" stroke="#6a6a6a" stroke-width="1.1"/>
<text x="316.90" y="304.10" font-size="8.3" text-anchor="end" >10</text>
<text x="317.80" y="301.80" font-size="5.5" text-anchor="start" >5</text>
<path d="M322.30,278.10h4.2" stroke="#6a6a6a" stroke-width="1.1"/>
<text x="316.90" y="281.10" font-size="8.3" text-anchor="end" >10</text>
<text x="317.80" y="278.80" font-size="5.5" text-anchor="start" >6</text>
<path d="M322.30,255.10h4.2" stroke="#6a6a6a" stroke-width="1.1"/>
<text x="316.90" y="258.10" font-size="8.3" text-anchor="end" >10</text>
<text x="317.80" y="255.80" font-size="5.5" text-anchor="start" >7</text>
<path d="M322.30,232.10h4.2" stroke="#6a6a6a" stroke-width="1.1"/>
<text x="316.90" y="235.10" font-size="8.3" text-anchor="end" >10</text>
<text x="317.80" y="232.80" font-size="5.5" text-anchor="start" >8</text>
<path d="M322.30,209.10h4.2" stroke="#6a6a6a" stroke-width="1.1"/>
<text x="316.90" y="212.10" font-size="8.3" text-anchor="end" >10</text>
<text x="317.80" y="209.80" font-size="5.5" text-anchor="start" >9</text>
<path d="M390.02,233.71V237.69M387.82,233.71h4.40M387.82,237.69h4.40" fill="none" stroke="#6e6e6e" stroke-width="1"/>
<path d="M326.50,302.48 L349.60,222.21 L390.02,215.77 L424.68,217.04" fill="none" stroke="#333333" stroke-width="0.9"/>
<path d="M326.50,301.10 L349.60,222.21 L390.02,217.38 L424.68,218.07" fill="none" stroke="#333333" stroke-width="0.9"/>
<path d="M326.50,300.18 L349.60,222.21 L390.02,223.82 L424.68,226.35" fill="none" stroke="#333333" stroke-width="0.9"/>
<path d="M326.50,297.65 L349.60,233.02 L390.02,234.40 L424.68,242.11" fill="none" stroke="#333333" stroke-width="0.9"/>
<circle cx="326.50" cy="302.48" r="2.5" fill="#ff0000" stroke="#111" stroke-width="0.7"/>
<circle cx="349.60" cy="222.21" r="2.5" fill="#ff0000" stroke="#111" stroke-width="0.7"/>
<circle cx="390.02" cy="215.77" r="2.5" fill="#ff0000" stroke="#111" stroke-width="0.7"/>
<circle cx="424.68" cy="217.04" r="2.5" fill="#ff0000" stroke="#111" stroke-width="0.7"/>
<circle cx="326.50" cy="301.10" r="2.5" fill="#ff6600" stroke="#111" stroke-width="0.7"/>
<circle cx="349.60" cy="222.21" r="2.5" fill="#ff6600" stroke="#111" stroke-width="0.7"/>
<circle cx="390.02" cy="217.38" r="2.5" fill="#ff6600" stroke="#111" stroke-width="0.7"/>
<circle cx="424.68" cy="218.07" r="2.5" fill="#ff6600" stroke="#111" stroke-width="0.7"/>
<circle cx="326.50" cy="300.18" r="2.5" fill="#ffff00" stroke="#111" stroke-width="0.7"/>
<circle cx="349.60" cy="222.21" r="2.5" fill="#ffff00" stroke="#111" stroke-width="0.7"/>
<circle cx="390.02" cy="223.82" r="2.5" fill="#ffff00" stroke="#111" stroke-width="0.7"/>
<circle cx="424.68" cy="226.35" r="2.5" fill="#ffff00" stroke="#111" stroke-width="0.7"/>
<circle cx="326.50" cy="297.65" r="2.5" fill="#0000ff" stroke="#111" stroke-width="0.7"/>
<circle cx="349.60" cy="233.02" r="2.5" fill="#0000ff" stroke="#111" stroke-width="0.7"/>
<circle cx="390.02" cy="234.40" r="2.5" fill="#0000ff" stroke="#111" stroke-width="0.7"/>
<circle cx="424.68" cy="242.11" r="2.5" fill="#0000ff" stroke="#111" stroke-width="0.7"/>
<path d="M446.70,265.90h12" stroke="#333333" stroke-width="0.8"/>
<circle cx="452.70" cy="265.90" r="2.2" fill="#0000ff" stroke="#111" stroke-width="0.6"/>
<text x="466.20" y="269.20" font-size="9.35" text-anchor="start" >Control</text>
<path d="M446.70,279.60h12" stroke="#333333" stroke-width="0.8"/>
<circle cx="452.70" cy="279.60" r="2.2" fill="#ffff00" stroke="#111" stroke-width="0.6"/>
<text x="466.20" y="282.90" font-size="9.35" text-anchor="start" >Air_low</text>
<path d="M446.70,295.20h12" stroke="#333333" stroke-width="0.8"/>
<circle cx="452.70" cy="295.20" r="2.2" fill="#ff6600" stroke="#111" stroke-width="0.6"/>
<text x="466.20" y="298.50" font-size="9.35" text-anchor="start" >Air_medium</text>
<path d="M446.70,310.50h12" stroke="#333333" stroke-width="0.8"/>
<circle cx="452.70" cy="310.50" r="2.2" fill="#ff0000" stroke="#111" stroke-width="0.6"/>
<text x="466.20" y="313.80" font-size="9.35" text-anchor="start" >Air_high</text>
<text x="283.10" y="209.10" font-size="10.5" text-anchor="start" >D</text>
<g transform="translate(290.20,266.80) rotate(-90)">
<text x="0" y="-2.40" font-size="9.55" text-anchor="middle">Cell concentration</text>
<text x="0" y="8.80" font-size="9.55" text-anchor="middle">[Log CFU/mL]</text>
</g>
<text x="384.25" y="357.20" font-size="9.45" text-anchor="middle" >Sugar consumption [%]</text>
<path d="M54.50,394.80V510.30H170.00" fill="none" stroke="#6a6a6a" stroke-width="1.2"/>
<path d="M54.50,510.30v4.7" stroke="#6a6a6a" stroke-width="1.1"/>
<text x="54.50" y="524.10" font-size="9.0" text-anchor="middle" >0</text>
<path d="M77.60,510.30v4.7" stroke="#6a6a6a" stroke-width="1.1"/>
<text x="77.60" y="524.10" font-size="9.0" text-anchor="middle" >20</text>
<path d="M100.70,510.30v4.7" stroke="#6a6a6a" stroke-width="1.1"/>
<text x="100.70" y="524.10" font-size="9.0" text-anchor="middle" >40</text>
<path d="M123.80,510.30v4.7" stroke="#6a6a6a" stroke-width="1.1"/>
<text x="123.80" y="524.10" font-size="9.0" text-anchor="middle" >60</text>
<path d="M146.90,510.30v4.7" stroke="#6a6a6a" stroke-width="1.1"/>
<text x="146.90" y="524.10" font-size="9.0" text-anchor="middle" >80</text>
<path d="M170.00,510.30v4.7" stroke="#6a6a6a" stroke-width="1.1"/>
<text x="170.00" y="524.10" font-size="9.0" text-anchor="middle" >100</text>
<path d="M50.30,510.30h4.2" stroke="#6a6a6a" stroke-width="1.1"/>
<text x="44.90" y="513.30" font-size="8.3" text-anchor="end" >10</text>
<text x="45.80" y="511.00" font-size="5.5" text-anchor="start" >4</text>
<path d="M50.30,487.20h4.2" stroke="#6a6a6a" stroke-width="1.1"/>
<text x="44.90" y="490.20" font-size="8.3" text-anchor="end" >10</text>
<text x="45.80" y="487.90" font-size="5.5" text-anchor="start" >5</text>
<path d="M50.30,464.10h4.2" stroke="#6a6a6a" stroke-width="1.1"/>
<text x="44.90" y="467.10" font-size="8.3" text-anchor="end" >10</text>
<text x="45.80" y="464.80" font-size="5.5" text-anchor="start" >6</text>
<path d="M50.30,441.00h4.2" stroke="#6a6a6a" stroke-width="1.1"/>
<text x="44.90" y="444.00" font-size="8.3" text-anchor="end" >10</text>
<text x="45.80" y="441.70" font-size="5.5" text-anchor="start" >7</text>
<path d="M50.30,417.90h4.2" stroke="#6a6a6a" stroke-width="1.1"/>
<text x="44.90" y="420.90" font-size="8.3" text-anchor="end" >10</text>
<text x="45.80" y="418.60" font-size="5.5" text-anchor="start" >8</text>
<path d="M50.30,394.80h4.2" stroke="#6a6a6a" stroke-width="1.1"/>
<text x="44.90" y="397.80" font-size="8.3" text-anchor="end" >10</text>
<text x="45.80" y="395.50" font-size="5.5" text-anchor="start" >9</text>
<path d="M54.50,498.75V506.60M52.30,498.75h4.40M52.30,506.60h4.40" fill="none" stroke="#6e6e6e" stroke-width="1"/>
<path d="M146.90,426.22V442.39M144.70,426.22h4.40M144.70,442.39h4.40" fill="none" stroke="#6e6e6e" stroke-width="1"/>
<path d="M112.25,420.90V425.99M110.05,420.90h4.40M110.05,425.99h4.40" fill="none" stroke="#6e6e6e" stroke-width="1"/>
<path d="M54.50,499.91 L77.60,414.67 L112.25,418.36 L146.90,427.60" fill="none" stroke="#333333" stroke-width="0.9"/>
<path d="M54.50,499.91 L77.60,414.67 L112.25,412.59 L146.90,423.91" fill="none" stroke="#333333" stroke-width="0.9"/>
<path d="M54.50,499.91 L77.60,411.89 L112.25,416.51 L146.90,419.98" fill="none" stroke="#333333" stroke-width="0.9"/>
<path d="M54.50,500.37 L77.60,417.44 L112.25,423.44 L146.90,438.00" fill="none" stroke="#333333" stroke-width="0.9"/>
<circle cx="54.50" cy="499.91" r="2.5" fill="#ff0000" stroke="#111" stroke-width="0.7"/>
<circle cx="77.60" cy="414.67" r="2.5" fill="#ff0000" stroke="#111" stroke-width="0.7"/>
<circle cx="112.25" cy="418.36" r="2.5" fill="#ff0000" stroke="#111" stroke-width="0.7"/>
<circle cx="146.90" cy="427.60" r="2.5" fill="#ff0000" stroke="#111" stroke-width="0.7"/>
<circle cx="54.50" cy="499.91" r="2.5" fill="#ff6600" stroke="#111" stroke-width="0.7"/>
<circle cx="77.60" cy="414.67" r="2.5" fill="#ff6600" stroke="#111" stroke-width="0.7"/>
<circle cx="112.25" cy="412.59" r="2.5" fill="#ff6600" stroke="#111" stroke-width="0.7"/>
<circle cx="146.90" cy="423.91" r="2.5" fill="#ff6600" stroke="#111" stroke-width="0.7"/>
<circle cx="54.50" cy="499.91" r="2.5" fill="#ffff00" stroke="#111" stroke-width="0.7"/>
<circle cx="77.60" cy="411.89" r="2.5" fill="#ffff00" stroke="#111" stroke-width="0.7"/>
<circle cx="112.25" cy="416.51" r="2.5" fill="#ffff00" stroke="#111" stroke-width="0.7"/>
<circle cx="146.90" cy="419.98" r="2.5" fill="#ffff00" stroke="#111" stroke-width="0.7"/>
<circle cx="54.50" cy="500.37" r="2.5" fill="#0000ff" stroke="#111" stroke-width="0.7"/>
<circle cx="77.60" cy="417.44" r="2.5" fill="#0000ff" stroke="#111" stroke-width="0.7"/>
<circle cx="112.25" cy="423.44" r="2.5" fill="#0000ff" stroke="#111" stroke-width="0.7"/>
<circle cx="146.90" cy="438.00" r="2.5" fill="#0000ff" stroke="#111" stroke-width="0.7"/>
<path d="M180.50,449.90h12" stroke="#333333" stroke-width="0.8"/>
<circle cx="186.50" cy="449.90" r="2.2" fill="#0000ff" stroke="#111" stroke-width="0.6"/>
<text x="199.80" y="453.20" font-size="9.35" text-anchor="start" >Control</text>
<path d="M180.50,463.60h12" stroke="#333333" stroke-width="0.8"/>
<circle cx="186.50" cy="463.60" r="2.2" fill="#ffff00" stroke="#111" stroke-width="0.6"/>
<text x="199.80" y="466.90" font-size="9.35" text-anchor="start" >Air_24h</text>
<path d="M180.50,479.20h12" stroke="#333333" stroke-width="0.8"/>
<circle cx="186.50" cy="479.20" r="2.2" fill="#ff6600" stroke="#111" stroke-width="0.6"/>
<text x="199.80" y="482.50" font-size="9.35" text-anchor="start" >Air_48h</text>
<path d="M180.50,494.80h12" stroke="#333333" stroke-width="0.8"/>
<circle cx="186.50" cy="494.80" r="2.2" fill="#ff0000" stroke="#111" stroke-width="0.6"/>
<text x="199.80" y="498.10" font-size="9.35" text-anchor="start" >Air_72h</text>
<text x="10.40" y="390.80" font-size="10.5" text-anchor="start" >E</text>
<g transform="translate(17.50,452.80) rotate(-90)">
<text x="0" y="-2.40" font-size="9.55" text-anchor="middle">Cell concentration</text>
<text x="0" y="8.80" font-size="9.55" text-anchor="middle">[Log CFU/mL]</text>
</g>
<text x="112.25" y="543.40" font-size="9.45" text-anchor="middle" >Sugar consumption [%]</text>
<path d="M326.50,394.80V510.30H442.00" fill="none" stroke="#6a6a6a" stroke-width="1.2"/>
<path d="M326.50,510.30v4.7" stroke="#6a6a6a" stroke-width="1.1"/>
<text x="326.50" y="524.10" font-size="9.0" text-anchor="middle" >0</text>
<path d="M349.60,510.30v4.7" stroke="#6a6a6a" stroke-width="1.1"/>
<text x="349.60" y="524.10" font-size="9.0" text-anchor="middle" >20</text>
<path d="M372.70,510.30v4.7" stroke="#6a6a6a" stroke-width="1.1"/>
<text x="372.70" y="524.10" font-size="9.0" text-anchor="middle" >40</text>
<path d="M395.80,510.30v4.7" stroke="#6a6a6a" stroke-width="1.1"/>
<text x="395.80" y="524.10" font-size="9.0" text-anchor="middle" >60</text>
<path d="M418.90,510.30v4.7" stroke="#6a6a6a" stroke-width="1.1"/>
<text x="418.90" y="524.10" font-size="9.0" text-anchor="middle" >80</text>
<path d="M442.00,510.30v4.7" stroke="#6a6a6a" stroke-width="1.1"/>
<text x="442.00" y="524.10" font-size="9.0" text-anchor="middle" >100</text>
<path d="M322.30,510.30h4.2" stroke="#6a6a6a" stroke-width="1.1"/>
<text x="316.90" y="513.30" font-size="8.3" text-anchor="end" >10</text>
<text x="317.80" y="511.00" font-size="5.5" text-anchor="start" >4</text>
<path d="M322.30,487.20h4.2" stroke="#6a6a6a" stroke-width="1.1"/>
<text x="316.90" y="490.20" font-size="8.3" text-anchor="end" >10</text>
<text x="317.80" y="487.90" font-size="5.5" text-anchor="start" >5</text>
<path d="M322.30,464.10h4.2" stroke="#6a6a6a" stroke-width="1.1"/>
<text x="316.90" y="467.10" font-size="8.3" text-anchor="end" >10</text>
<text x="317.80" y="464.80" font-size="5.5" text-anchor="start" >6</text>
<path d="M322.30,441.00h4.2" stroke="#6a6a6a" stroke-width="1.1"/>
<text x="316.90" y="444.00" font-size="8.3" text-anchor="end" >10</text>
<text x="317.80" y="441.70" font-size="5.5" text-anchor="start" >7</text>
<path d="M322.30,417.90h4.2" stroke="#6a6a6a" stroke-width="1.1"/>
<text x="316.90" y="420.90" font-size="8.3" text-anchor="end" >10</text>
<text x="317.80" y="418.60" font-size="5.5" text-anchor="start" >8</text>
<path d="M322.30,394.80h4.2" stroke="#6a6a6a" stroke-width="1.1"/>
<text x="316.90" y="397.80" font-size="8.3" text-anchor="end" >10</text>
<text x="317.80" y="395.50" font-size="5.5" text-anchor="start" >9</text>
<path d="M326.50,491.36 L349.60,414.44 L390.02,401.27 L424.68,408.66" fill="none" stroke="#333333" stroke-width="0.9"/>
<path d="M326.50,490.67 L349.60,414.44 L390.02,403.12 L424.68,411.43" fill="none" stroke="#333333" stroke-width="0.9"/>
<path d="M326.50,489.05 L349.60,414.44 L390.02,408.43 L424.68,416.28" fill="none" stroke="#333333" stroke-width="0.9"/>
<path d="M326.50,485.12 L349.60,418.82 L390.02,419.98 L424.68,429.91" fill="none" stroke="#333333" stroke-width="0.9"/>
<circle cx="326.50" cy="491.36" r="2.5" fill="#ff0000" stroke="#111" stroke-width="0.7"/>
<circle cx="349.60" cy="414.44" r="2.5" fill="#ff0000" stroke="#111" stroke-width="0.7"/>
<circle cx="390.02" cy="401.27" r="2.5" fill="#ff0000" stroke="#111" stroke-width="0.7"/>
<circle cx="424.68" cy="408.66" r="2.5" fill="#ff0000" stroke="#111" stroke-width="0.7"/>
<circle cx="326.50" cy="490.67" r="2.5" fill="#ff6600" stroke="#111" stroke-width="0.7"/>
<circle cx="349.60" cy="414.44" r="2.5" fill="#ff6600" stroke="#111" stroke-width="0.7"/>
<circle cx="390.02" cy="403.12" r="2.5" fill="#ff6600" stroke="#111" stroke-width="0.7"/>
<circle cx="424.68" cy="411.43" r="2.5" fill="#ff6600" stroke="#111" stroke-width="0.7"/>
<circle cx="326.50" cy="489.05" r="2.5" fill="#ffff00" stroke="#111" stroke-width="0.7"/>
<circle cx="349.60" cy="414.44" r="2.5" fill="#ffff00" stroke="#111" stroke-width="0.7"/>
<circle cx="390.02" cy="408.43" r="2.5" fill="#ffff00" stroke="#111" stroke-width="0.7"/>
<circle cx="424.68" cy="416.28" r="2.5" fill="#ffff00" stroke="#111" stroke-width="0.7"/>
<circle cx="326.50" cy="485.12" r="2.5" fill="#0000ff" stroke="#111" stroke-width="0.7"/>
<circle cx="349.60" cy="418.82" r="2.5" fill="#0000ff" stroke="#111" stroke-width="0.7"/>
<circle cx="390.02" cy="419.98" r="2.5" fill="#0000ff" stroke="#111" stroke-width="0.7"/>
<circle cx="424.68" cy="429.91" r="2.5" fill="#0000ff" stroke="#111" stroke-width="0.7"/>
<path d="M446.70,449.80h12" stroke="#333333" stroke-width="0.8"/>
<circle cx="452.70" cy="449.80" r="2.2" fill="#0000ff" stroke="#111" stroke-width="0.6"/>
<text x="466.20" y="453.10" font-size="9.35" text-anchor="start" >Control</text>
<path d="M446.70,463.40h12" stroke="#333333" stroke-width="0.8"/>
<circle cx="452.70" cy="463.40" r="2.2" fill="#ffff00" stroke="#111" stroke-width="0.6"/>
<text x="466.20" y="466.70" font-size="9.35" text-anchor="start" >Air_low</text>
<path d="M446.70,479.40h12" stroke="#333333" stroke-width="0.8"/>
<circle cx="452.70" cy="479.40" r="2.2" fill="#ff6600" stroke="#111" stroke-width="0.6"/>
<text x="466.20" y="482.70" font-size="9.35" text-anchor="start" >Air_medium</text>
<path d="M446.70,494.50h12" stroke="#333333" stroke-width="0.8"/>
<circle cx="452.70" cy="494.50" r="2.2" fill="#ff0000" stroke="#111" stroke-width="0.6"/>
<text x="466.20" y="497.80" font-size="9.35" text-anchor="start" >Air_high</text>
<text x="283.60" y="390.80" font-size="10.5" text-anchor="start" >F</text>
<g transform="translate(290.20,452.80) rotate(-90)">
<text x="0" y="-2.40" font-size="9.55" text-anchor="middle">Cell concentration</text>
<text x="0" y="8.80" font-size="9.55" text-anchor="middle">[Log CFU/mL]</text>
</g>
<text x="384.25" y="543.40" font-size="9.45" text-anchor="middle" >Sugar consumption [%]</text>
</svg>
</body></html>
